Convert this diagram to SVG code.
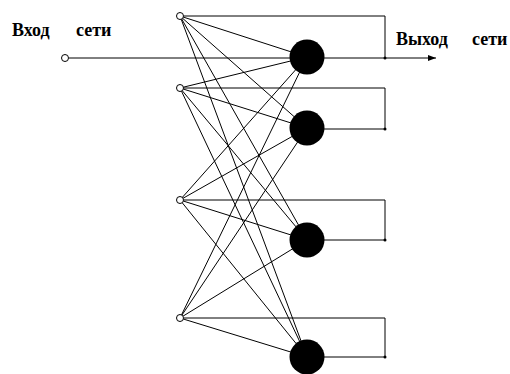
<svg xmlns="http://www.w3.org/2000/svg" width="510" height="374" viewBox="0 0 510 374">
<style>
.w{stroke:#000;stroke-width:1;fill:none}
.in{fill:#fff;stroke:#000;stroke-width:1}
.n{fill:#000}
.d{fill:#000}
.t{font-family:"Liberation Serif","Times New Roman",serif;font-weight:bold;font-size:18px;fill:#000}
</style>
<defs>
<marker id="ar" markerWidth="8" markerHeight="6" refX="8" refY="3" orient="auto" markerUnits="userSpaceOnUse">
<path d="M0,0 L8,3 L0,6 Z" fill="#000"/>
</marker>
</defs>
<rect width="510" height="374" fill="#fff"/>
<g id="connectors">
<path class="w" d="M69,58 H385"/>
<path class="w" d="M385,58 H436" marker-end="url(#ar)"/>
<path class="w" d="M184,16 H385 V58"/>
<path class="w" d="M184,88 H385 V129 H307"/>
<path class="w" d="M184,200 H385 V240 H307"/>
<path class="w" d="M184,318 H385 V357 H307"/>
<g class="w">
<line x1="180" y1="16" x2="307" y2="57"/>
<line x1="180" y1="16" x2="307" y2="128"/>
<line x1="180" y1="16" x2="307" y2="240"/>
<line x1="180" y1="16" x2="307" y2="357"/>
<line x1="180" y1="88" x2="307" y2="57"/>
<line x1="180" y1="88" x2="307" y2="128"/>
<line x1="180" y1="88" x2="307" y2="240"/>
<line x1="180" y1="88" x2="307" y2="357"/>
<line x1="180" y1="200" x2="307" y2="57"/>
<line x1="180" y1="200" x2="307" y2="128"/>
<line x1="180" y1="200" x2="307" y2="240"/>
<line x1="180" y1="200" x2="307" y2="357"/>
<line x1="180" y1="318" x2="307" y2="57"/>
<line x1="180" y1="318" x2="307" y2="128"/>
<line x1="180" y1="318" x2="307" y2="240"/>
<line x1="180" y1="318" x2="307" y2="357"/>
</g>
<circle class="d" cx="385" cy="58" r="1.5"/>
<circle class="d" cx="385" cy="129" r="1.5"/>
<circle class="d" cx="385" cy="240" r="1.5"/>
<circle class="d" cx="385" cy="357" r="1.5"/>
</g>
<g id="input-net"><circle class="in" cx="65" cy="58" r="3.5"/></g>
<g id="in1"><circle class="in" cx="180" cy="16" r="3.5"/></g>
<g id="in2"><circle class="in" cx="180" cy="88" r="3.5"/></g>
<g id="in3"><circle class="in" cx="180" cy="200" r="3.5"/></g>
<g id="in4"><circle class="in" cx="180" cy="318" r="3.5"/></g>
<g id="n1"><circle class="n" cx="307" cy="57" r="17.5"/></g>
<g id="n2"><circle class="n" cx="307" cy="128" r="17.5"/></g>
<g id="n3"><circle class="n" cx="307" cy="240" r="17.5"/></g>
<g id="n4"><circle class="n" cx="307" cy="357" r="17.5"/></g>
<g id="label-in"><text class="t" y="36"><tspan x="12">Вход</tspan><tspan x="76">сети</tspan></text></g>
<g id="label-out"><text class="t" y="45"><tspan x="396">Выход</tspan><tspan x="472">сети</tspan></text></g>
</svg>
